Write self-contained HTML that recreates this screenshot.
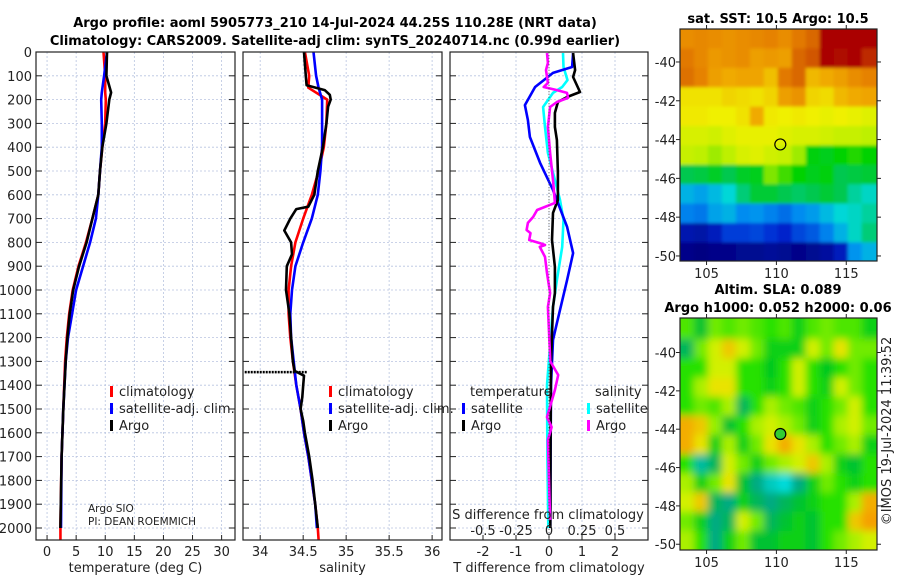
<!DOCTYPE html>
<html><head><meta charset="utf-8"><style>
body{margin:0;background:#fff;width:900px;height:580px;overflow:hidden}
svg{display:block;font-family:"DejaVu Sans","Liberation Sans",sans-serif}
</style></head><body>
<svg id="c" width="900" height="580" viewBox="0 0 900 580"></svg>
<script>
// ---- data ----
const depthT = [0,100,170,200,300,400,500,600,700,800,900,1000,1100,1200,1300,1500,1700,2000];
const tempArgo = [10.3,10.2,11.0,10.7,10.2,9.5,9.1,8.8,7.8,6.8,5.5,4.5,3.9,3.5,3.2,2.8,2.5,2.3];
const tempClim = [9.7,10.0,10.0,10.1,10.0,9.5,9.1,8.8,7.8,6.7,5.4,4.4,3.8,3.4,3.1,2.8,2.5,2.3];
const tempSat  = [10.3,9.8,9.4,9.3,9.4,9.4,9.1,8.8,8.4,7.4,6.2,5.0,4.3,3.6,3.2,2.8,2.5,2.4];
const depthS = [0,100,140,160,180,200,230,300,400,500,600,650,660,700,750,800,850,900,1000,1100,1200,1300,1340,1360,1400,1450,1500,1550,1600,1700,1800,1900,2000];
const salArgo = [34.51,34.53,34.54,34.75,34.81,34.82,34.79,34.77,34.73,34.67,34.63,34.56,34.42,34.35,34.28,34.36,34.37,34.31,34.30,34.34,34.36,34.38,34.40,34.51,34.50,34.49,34.47,34.50,34.52,34.57,34.61,34.64,34.67];
const depthSc = [0,100,150,200,300,400,500,600,700,800,900,1000,1100,1200,1300,1400,1500,1600,1700,1800,1900,2000,2050];
const salClim = [34.52,34.57,34.56,34.78,34.77,34.74,34.68,34.60,34.50,34.41,34.36,34.33,34.33,34.35,34.38,34.42,34.47,34.51,34.56,34.60,34.64,34.67,34.68];
const salSat  = [34.62,34.65,34.68,34.72,34.72,34.72,34.70,34.67,34.60,34.50,34.41,34.37,34.35,34.36,34.39,34.42,34.47,34.51,34.56,34.60,34.64,34.66,34.66];
const badDepth = 1345, badSal = [33.82, 34.55];
const depthDT = [4,63,88,147,223,286,357,466,580,735,845,958,1139,1210,1400,1700,2000];
const dTsat = [0.73,0.70,0.12,-0.42,-0.73,-0.64,-0.58,-0.27,0.12,0.55,0.73,0.55,0.24,0.12,0.06,0.05,0.04];
const depthDTa = [4,76,105,168,189,210,256,315,370,508,622,676,790,903,1013,1071,1300,1600,2000];
const dTargo = [0.73,0.79,0.73,0.94,0.55,0.27,0.18,0.18,0.24,0.27,0.27,0.12,0.09,0.18,0.18,0.12,0.06,0.05,0.04];
const depthDS = [4,63,118,147,172,231,315,424,538,622,706,819,958,1071,1400,1700,2000];
const dSsat = [0.106,0.11,0.14,0.10,0.03,-0.045,-0.03,-0.008,0.045,0.083,0.11,0.10,0.06,0.03,-0.015,-0.012,-0.005];
const depthDSa = [4,46,76,130,147,160,172,193,210,231,315,424,538,634,664,693,718,748,761,790,803,811,819,861,929,1013,1071,1300,1357,1420,1534,1576,1630,1966];
const dSargo = [-0.015,-0.008,-0.023,-0.008,-0.04,0.06,0.136,0.144,0.06,0.008,-0.008,0.008,0.03,0.045,-0.09,-0.12,-0.16,-0.17,-0.14,-0.15,-0.07,-0.03,-0.07,-0.03,-0.015,0.008,-0.008,0.01,0.07,0.045,-0.015,0.02,-0.008,0.008];
const depthTicks = [0,100,200,300,400,500,600,700,800,900,1000,1100,1200,1300,1400,1500,1600,1700,1800,1900,2000];
const tTicks = [0,5,10,15,20,25,30];
const sTicks = [34,34.5,35,35.5,36];
const dTTicks = [-2,-1,0,1,2];
const dSTicks = [-0.5,-0.25,0,0.25,0.5];
const latTicks = [-40,-42,-44,-46,-48,-50];
const lonTicks = [105,110,115];
const sstGrid = [
[12.3,12.4,12.3,12.2,12.3,12.4,12.5,12.3,12.6,12.8,14,14,14,14],
[12.6,12.4,12.1,12.2,12.3,12.0,12.1,12.0,12.8,13.0,14,13.9,14,13.5],
[12.7,12.5,12.0,11.8,11.9,11.9,11.5,12.6,12.8,11.6,11.8,12.0,12.3,12.5],
[11.0,11.0,11.0,11.2,11.1,11.0,11.2,12.0,12.2,11.2,11.1,11.6,11.8,11.9],
[10.9,10.9,10.8,10.8,11.0,11.8,10.9,10.8,10.9,10.8,10.7,10.8,10.7,10.6],
[10.5,10.5,10.4,10.6,10.7,10.7,10.7,10.6,10.5,10.5,10.4,10.3,10.3,10.2],
[10.3,10.2,10.1,10.2,10.5,10.6,10.4,10.3,10.1,9.5,9.4,9.6,9.7,9.6],
[9.0,9.1,9.3,9.0,9.3,9.4,10.0,9.8,9.6,9.4,9.5,9.0,9.1,9.2],
[7.8,7.6,7.9,8.3,8.8,9.2,9.2,9.0,8.9,9.0,9.2,9.0,8.6,8.4],
[7.2,7.1,7.6,7.8,7.3,7.4,7.2,7.0,7.3,7.5,7.9,8.3,8.4,8.6],
[5.8,5.7,6.0,6.5,6.5,6.6,6.4,6.2,6.6,6.8,7.2,7.8,8.4,8.8],
[5.3,5.2,5.3,5.3,5.4,5.4,5.5,5.4,5.3,5.4,5.6,6.0,7.4,7.8]];
const slaGrid = [
[0.03,-0.02,0.04,0.03,0.04,0.03,0.02,0.03,0.00,0.03,0.04,0.03,0.03,0.00],
[-0.04,0.04,0.08,0.12,0.08,0.04,0.00,0.00,0.00,0.08,0.04,0.10,0.04,0.04],
[0.02,0.02,0.08,0.08,0.02,0.02,-0.01,0.02,0.08,0.02,-0.01,0.02,0.04,0.02],
[0.02,0.06,0.10,0.10,0.02,0.02,0.00,0.02,0.08,0.02,0.00,0.08,0.04,0.02],
[0.02,0.04,0.03,0.06,-0.04,0.02,0.06,0.04,0.03,0.00,0.02,0.04,0.08,0.02],
[0.14,0.12,0.05,-0.02,0.02,0.06,0.08,0.06,0.04,0.00,0.02,0.06,0.08,0.04],
[0.14,0.10,0.00,0.06,0.00,0.04,0.10,0.14,0.10,0.06,0.02,0.04,0.06,0.00],
[0.02,-0.08,-0.04,0.08,0.04,0.00,0.04,0.06,0.08,0.12,0.06,0.00,-0.02,0.02],
[0.06,0.00,0.04,0.10,-0.02,-0.06,-0.10,-0.12,-0.06,0.00,0.04,0.02,0.00,0.02],
[0.08,0.12,-0.04,-0.06,0.00,-0.04,-0.06,-0.04,-0.02,0.00,0.02,0.02,0.06,0.14],
[0.04,0.00,-0.06,-0.04,0.08,0.04,-0.04,-0.02,0.00,-0.02,0.02,0.02,0.12,0.16],
[0.06,0.02,-0.06,0.00,0.04,-0.02,-0.02,0.00,0.00,-0.02,0.02,0.04,0.06,0.08]];
const argoLon = 110.28, argoLat = -44.25;

// ---- helpers ----
const NS='http://www.w3.org/2000/svg';
const svg=document.getElementById('c');
function mk(tag,attrs,parent){const e=document.createElementNS(NS,tag);for(const k in attrs)e.setAttribute(k,attrs[k]);(parent||svg).appendChild(e);return e;}
function txt(s,x,y,attrs,parent){const e=mk('text',Object.assign({x:x,y:y,'font-size':13,fill:'#222'},attrs||{}),parent);e.textContent=s;return e;}
const Y0=52, PXD=0.238, YB=540;
const yD=d=>Y0+d*PXD;
function ramp(stops){return v=>{if(v<=stops[0][0])return `rgb(${stops[0][1]})`;for(let i=1;i<stops.length;i++){if(v<=stops[i][0]){const a=stops[i-1],b=stops[i],f=(v-a[0])/(b[0]-a[0]);const c=a[1].map((x,k)=>Math.round(x+(b[1][k]-x)*f));return `rgb(${c})`;}}return `rgb(${stops[stops.length-1][1]})`;};}
const sstColor=ramp([[5.2,[0,0,130]],[6.3,[0,40,210]],[7.3,[0,140,240]],[8.3,[0,215,215]],[9.0,[0,200,80]],[9.6,[0,210,0]],[10.2,[190,240,0]],[10.8,[240,240,0]],[11.8,[240,170,0]],[12.5,[230,130,0]],[13.2,[200,70,0]],[14,[170,0,0]]]);
const slaColor=ramp([[-0.12,[0,220,220]],[-0.06,[0,170,130]],[-0.01,[0,200,30]],[0.02,[40,225,0]],[0.05,[150,240,0]],[0.09,[230,240,0]],[0.15,[245,160,0]]]);

// ---- titles ----
const t1=txt('Argo profile: aoml 5905773_210 14-Jul-2024 44.25S 110.28E (NRT data)',335,27,{'text-anchor':'middle','font-weight':'bold','fill':'#000'});

const t2=txt('Climatology: CARS2009. Satellite-adj clim: synTS_20240714.nc (0.99d earlier)',335,45,{'text-anchor':'middle','font-weight':'bold','fill':'#000'});


// ---- panels ----
const panels=[
 {name:'temperature-panel',x0:36,x1:235,v0:-1.9,v1:32.3,ticks:tTicks,label:'temperature (deg C)',ylabels:true},
 {name:'salinity-panel',x0:243,x1:442,v0:33.8,v1:36.115,ticks:sTicks,label:'salinity'},
 {name:'difference-panel',x0:450,x1:648,v0:-3,v1:3,ticks:dTTicks,label:'T difference from climatology'}];
panels.forEach(p=>{
 p.xs=v=>p.x0+(v-p.v0)/(p.v1-p.v0)*(p.x1-p.x0);
 const g=mk('g',{});
 
 
 p.g=g;
 depthTicks.forEach(d=>{const y=yD(d);mk('line',{x1:p.x0,x2:p.x1,y1:y,y2:y,stroke:'#b8c4e0','stroke-width':0.8,'stroke-dasharray':'2,2'},g);
  mk('line',{x1:p.x0,x2:p.x0+6,y1:y,y2:y,stroke:'#222'},g);mk('line',{x1:p.x1-6,x2:p.x1,y1:y,y2:y,stroke:'#222'},g);
  if(p.ylabels){const l=txt(String(d),32,y+5,{'text-anchor':'end'},g);}});
 p.ticks.forEach(v=>{const x=p.xs(v);mk('line',{x1:x,x2:x,y1:Y0,y2:YB,stroke:'#b8c4e0','stroke-width':0.8,'stroke-dasharray':'2,2'},g);
  mk('line',{x1:x,x2:x,y1:YB-5,y2:YB,stroke:'#222'},g);
  const l=txt(String(v),x,556,{'text-anchor':'middle'},g);});
 const xl=txt(p.label,(p.x0+p.x1)/2,572,{'text-anchor':'middle'},g);
 
});
function line(p,vals,depths,color,name,sc,w){
 const f=sc||p.xs;
 const pts=vals.map((v,i)=>f(v).toFixed(1)+','+yD(depths[i]).toFixed(1)).join(' ');
 const e=mk('polyline',{points:pts,fill:'none',stroke:color,'stroke-width':w||2.6,'stroke-linejoin':'round'},p.g);
 return e;}
const P1=panels[0],P2=panels[1],P3=panels[2];
line(P1,tempClim,depthT,'#f00','temp-climatology-line');
line(P1,tempSat,depthT,'#00f','temp-satellite-line');
line(P1,tempArgo,depthT,'#000','temp-argo-line');
mk('line',{x1:P1.xs(2.3),x2:P1.xs(2.3),y1:yD(2000),y2:YB,stroke:'#f00','stroke-width':2.6},P1.g);
line(P2,salClim,depthSc,'#f00','sal-climatology-line');
line(P2,salSat,depthSc.slice(0,-1).concat([2000]),'#00f','sal-satellite-line');
line(P2,salArgo,depthS,'#000','sal-argo-line');
const bad=mk('line',{x1:P2.xs(badSal[0]),x2:P2.xs(badSal[1]),y1:yD(badDepth),y2:yD(badDepth),stroke:'#000','stroke-width':2.5,'stroke-dasharray':'2,1'},P2.g);

const sScale=v=>P3.xs(v*4);
line(P3,dSsat,depthDS,'#0ff','sal-satellite-diff-line',sScale);
line(P3,dTsat,depthDT,'#00f','temp-satellite-diff-line');
line(P3,dTargo,depthDTa,'#000','temp-argo-diff-line');
line(P3,dSargo,depthDSa,'#f0f','sal-argo-diff-line',sScale);
mk('line',{x1:P3.xs(0),x2:P3.xs(0),y1:Y0,y2:YB,stroke:'#555','stroke-width':0.8,'stroke-dasharray':'1,2'},P3.g);
dSTicks.forEach(v=>{const l=txt(String(v),sScale(v),535,{'text-anchor':'middle'},P3.g);});
const sl=txt('S difference from climatology',548,519,{'text-anchor':'middle'},P3.g);

panels.forEach(p=>{mk('rect',{x:p.x0,y:Y0,width:p.x1-p.x0,height:YB-Y0,fill:'none',stroke:'#222','stroke-width':1.2},p.g);});

function legend(x,y,color,label,g){const lg=mk('g',{},g);
 mk('rect',{x:x,y:y-10,width:3,height:11,fill:color},lg);txt(label,x+9,y,{},lg);}
legend(110,396,'#f00','climatology',P1.g);legend(110,413,'#00f','satellite-adj. clim.',P1.g);legend(110,430,'#000','Argo',P1.g);
legend(329,396,'#f00','climatology',P2.g);legend(329,413,'#00f','satellite-adj. clim.',P2.g);legend(329,430,'#000','Argo',P2.g);
txt('temperature',470,396,{},P3.g);txt('salinity',595,396,{},P3.g);
legend(462,413,'#00f','satellite',P3.g);legend(462,430,'#000','Argo',P3.g);
legend(587,413,'#0ff','satellite',P3.g);legend(587,430,'#f0f','Argo',P3.g);
const pi=txt('Argo SIO',88,512,{'font-size':10.5},P1.g);
const pn=txt('PI: DEAN ROEMMICH',88,525,{'font-size':10.5},P1.g);

// ---- maps ----
const defs=mk('defs',{});
function map(name,top,bot,latTop,latBot,grid,colorFn,title,circleFill,blur){
 const g=mk('g',{});
 const X0=680,X1=877,lon0=103.1,lon1=117.2;
 const xs=lon=>X0+(lon-lon0)/(lon1-lon0)*(X1-X0);
 const ys=lat=>top+(latTop-lat)/(latTop-latBot)*(bot-top);
 const cp=mk('clipPath',{id:'cp-'+name},defs);mk('rect',{x:X0,y:top,width:X1-X0,height:bot-top},cp);
 const outer=mk('g',{'clip-path':'url(#cp-'+name+')'},g);
 const gg=mk('g',{},outer);
 if(blur){const f=mk('filter',{id:'bl-'+name,x:'-10%',y:'-10%',width:'120%',height:'120%'},defs);mk('feGaussianBlur',{stdDeviation:blur},f);gg.setAttribute('filter','url(#bl-'+name+')');}
 grid.forEach((row,r)=>row.forEach((v,c)=>{
  const lo=103.2+c;
  const x0=c===0?X0-15:xs(lo-0.1), x1=c===row.length-1?X1+15:xs(lo+0.9);
  const y0=r===0?top-15:ys(-38.3-r), y1=r===grid.length-1?bot+15:ys(-39.3-r);
  const cell=mk('rect',{x:x0.toFixed(1),y:y0.toFixed(1),width:(x1-x0+0.6).toFixed(1),height:(y1-y0+0.6).toFixed(1),fill:colorFn(v)},gg);
  
 }));
 mk('rect',{x:X0,y:top,width:X1-X0,height:bot-top,fill:'none',stroke:'#222','stroke-width':1.2},g);
 latTicks.forEach(l=>{const y=ys(l);mk('line',{x1:X0-4,x2:X0,y1:y,y2:y,stroke:'#222'},g);mk('line',{x1:X1,x2:X1+4,y1:y,y2:y,stroke:'#222'},g);
  const t=txt(String(l),X0-4,y+5,{'text-anchor':'end'},g);});
 lonTicks.forEach(l=>{const x=xs(l);mk('line',{x1:x,x2:x,y1:bot,y2:bot+4,stroke:'#222'},g);mk('line',{x1:x,x2:x,y1:top-4,y2:top,stroke:'#222'},g);
  const t=txt(String(l),x,bot+17,{'text-anchor':'middle'},g);});
 const c=mk('circle',{cx:xs(argoLon),cy:ys(argoLat),r:5.5,fill:circleFill,stroke:'#000','stroke-width':1.2},g);
 
 title.forEach((s,i)=>{const t=txt(s,778,top-(title.length-1-i)*18-6,{'text-anchor':'middle','font-weight':'bold',fill:'#000'},g);});
}
map('sst-map',29,261,-38.3,-50.26,sstGrid,sstColor,['sat. SST: 10.5 Argo: 10.5'],'none',1.5);
map('sla-map',318,550,-38.2,-50.3,slaGrid,slaColor,['Altim. SLA: 0.089','Argo h1000: 0.052 h2000: 0.06'],'#3c3',4);
const cr=txt('©IMOS 19-Jul-2024 11:39:52',0,0,{'text-anchor':'middle',transform:'translate(891,431) rotate(-90)'});

</script>
</body></html>
